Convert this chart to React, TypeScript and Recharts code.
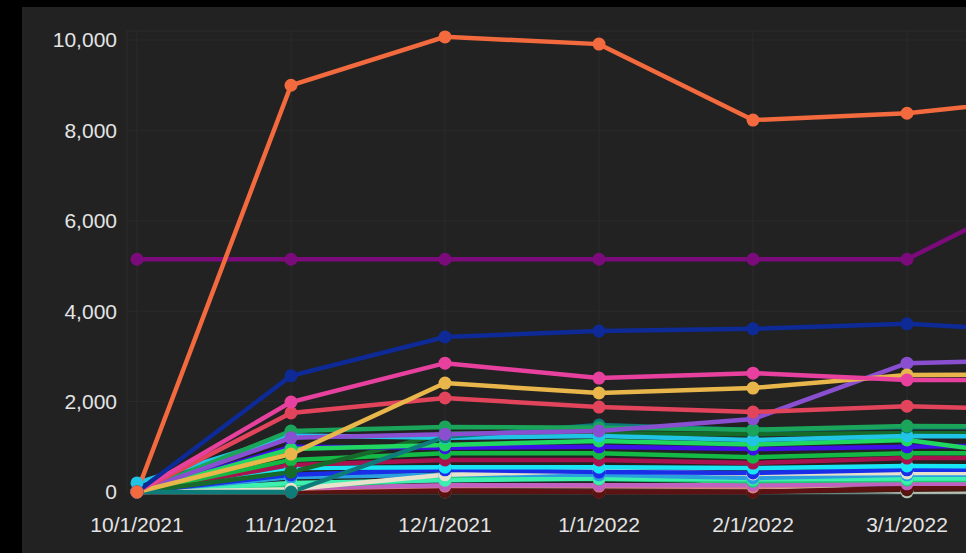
import { LineChart, Line, XAxis, YAxis, CartesianGrid } from "recharts";

const MONTHS = ["10/1/2021", "11/1/2021", "12/1/2021", "1/1/2022", "2/1/2022", "3/1/2022", "4/1/2022"];
// the last month runs off the right edge, its label is not shown
const X_TICKS = MONTHS.slice(0, 6);
const Y_TICKS = [0, 2000, 4000, 6000, 8000, 10000];

// one array per series, values in month order
const darkBrown = [0, 0, 0, 0, 0, 50, 80];
const darkMaroon = [0, 20, 40, 0, 0, 90, 150];
const lightGray = [0, 0, 400, 520, 120, 10, 10];
const tealGray = [0, 0, 0, 0, 0, 0, 0];
const salmon = [0, 80, 130, 130, 110, 200, 200];
const orchid = [0, 90, 150, 150, 150, 180, 180];
const springGreen = [0, 110, 290, 290, 240, 265, 260];
const mint = [0, 200, 260, 300, 280, 300, 300];
const lightBlue = [0, 330, 380, 380, 310, 380, 390];
const cream = [0, 60, 380, 470, 400, 420, 420];
const blue = [0, 380, 490, 440, 420, 490, 500];
const brightCyan = [0, 530, 550, 550, 530, 575, 560];
const crimson = [0, 600, 710, 710, 640, 750, 760];
const green2 = [0, 710, 860, 860, 770, 860, 850];
const darkGreen = [0, 440, 1300, 1300, 1280, 1300, 1300];
const blueViolet = [0, 1000, 980, 1000, 950, 1000, 1050];
const brightGreen = [0, 950, 1040, 1130, 1050, 1150, 700];
const cyan = [200, 1250, 1200, 1240, 1150, 1240, 1230];
const teal = [0, 0, 1220, 1480, 1370, 1440, 1420];
const green = [0, 1350, 1440, 1420, 1380, 1460, 1450];
const purple = [0, 1200, 1280, 1350, 1615, 2850, 2930];
const red = [0, 1750, 2080, 1880, 1770, 1900, 1800];
const yellow = [0, 840, 2410, 2190, 2300, 2590, 2600];
const pink = [0, 1990, 2850, 2520, 2630, 2480, 2480];
const navy = [0, 2570, 3430, 3560, 3610, 3720, 3540];
const darkPurple = [5150, 5150, 5150, 5150, 5150, 5150, 6850];
const orange = [0, 9000, 10070, 9910, 8230, 8380, 8745];

// drawing order: first is at the bottom
const SERIES: [string, number[], string][] = [
  ["tealGray", tealGray, "#6a8a88"],
  ["lightGray", lightGray, "#b8c2b4"],
  ["darkBrown", darkBrown, "#4a1a10"],
  ["darkMaroon", darkMaroon, "#5c1212"],
  ["salmon", salmon, "#d9857a"],
  ["orchid", orchid, "#c060c0"],
  ["springGreen", springGreen, "#22cc77"],
  ["mint", mint, "#3ef0b0"],
  ["lightBlue", lightBlue, "#2a9fe0"],
  ["cream", cream, "#e6e2cc"],
  ["blue", blue, "#1a2ee8"],
  ["brightCyan", brightCyan, "#19e6f5"],
  ["crimson", crimson, "#a8124e"],
  ["green2", green2, "#14b845"],
  ["darkGreen", darkGreen, "#176b2a"],
  ["blueViolet", blueViolet, "#4010e8"],
  ["brightGreen", brightGreen, "#20d860"],
  ["cyan", cyan, "#20c4e4"],
  ["teal", teal, "#0e7c7b"],
  ["green", green, "#1aa55a"],
  ["purple", purple, "#8a4fd0"],
  ["red", red, "#e2445c"],
  ["yellow", yellow, "#e8b64a"],
  ["pink", pink, "#e8409e"],
  ["navy", navy, "#0d2a96"],
  ["darkPurple", darkPurple, "#7b0a7b"],
  ["orange", orange, "#f26a3e"],
];

const data = MONTHS.map((month, i) => {
  const row: Record<string, string | number> = { month };
  SERIES.forEach(([key, values]) => {
    row[key] = values[i];
  });
  return row;
});

const tickStyle = { fontSize: 21, fill: "#e4e4e4", fontFamily: "'Liberation Sans', Arial, sans-serif" };

export default function App() {
  return (
    <div style={{ position: "absolute", left: 0, top: 0, width: 966, height: 553, background: "#000", overflow: "hidden" }}>
      <div style={{ position: "absolute", left: 22, top: 7, width: 944, height: 546, background: "#222222" }} />
      <div style={{ position: "absolute", left: 0, top: 0 }}>
        <LineChart width={1071} height={553} data={data} margin={{ top: 31, right: 0, left: 0, bottom: 0 }}>
          <CartesianGrid stroke="#2a2a2a" strokeWidth={1} />
          <XAxis
            dataKey="month"
            ticks={X_TICKS}
            axisLine={false}
            tickLine={false}
            tick={tickStyle}
            tickMargin={19}
            height={61}
            padding={{ left: 10, right: 10 }}
            interval={0}
          />
          <YAxis
            domain={[0, 10200]}
            ticks={Y_TICKS}
            axisLine={false}
            tickLine={false}
            tick={tickStyle}
            tickMargin={4}
            width={127}
            tickFormatter={(v: number) => v.toLocaleString("en-US")}
          />
          {SERIES.map(([key, , color]) => (
            <Line
              key={key}
              type="linear"
              dataKey={key}
              stroke={color}
              strokeWidth={4.5}
              dot={{ r: 6.5, fill: color, stroke: color, strokeWidth: 0 }}
              activeDot={false}
              isAnimationActive={false}
            />
          ))}
        </LineChart>
      </div>
    </div>
  );
}
